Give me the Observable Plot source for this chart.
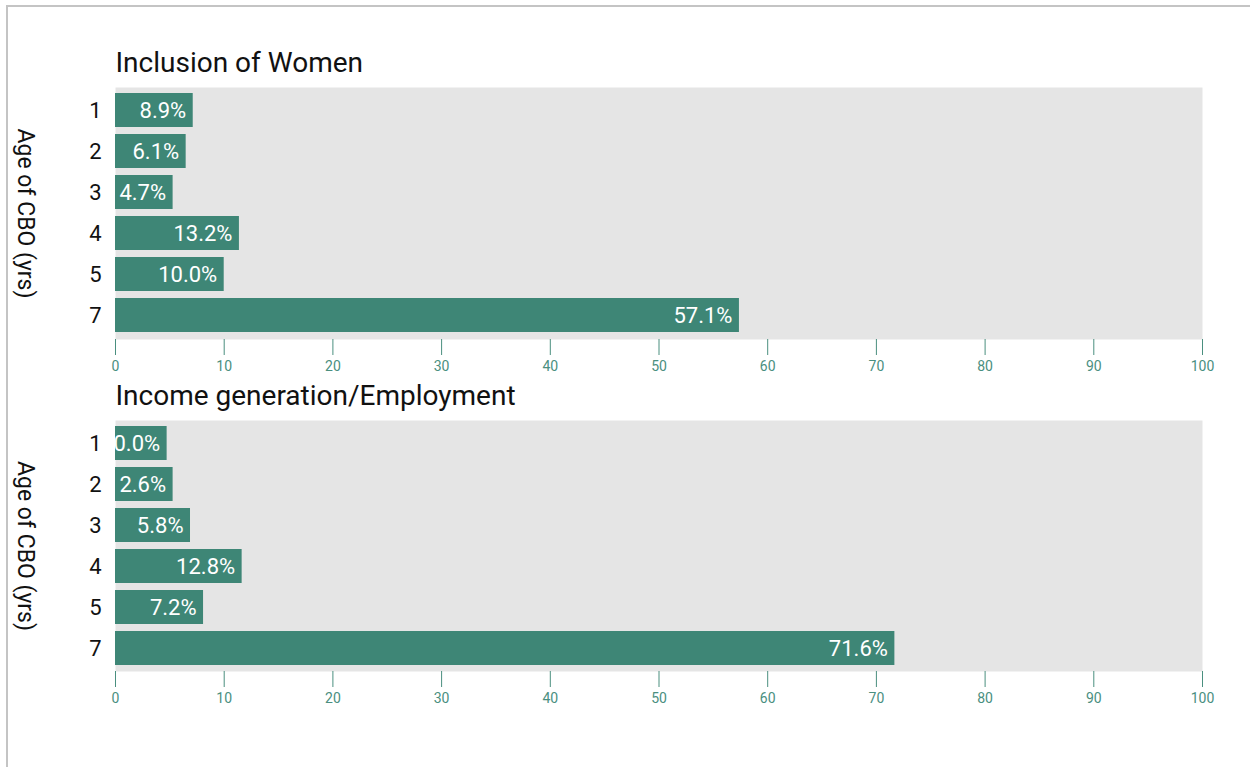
<!DOCTYPE html>
<html><head><meta charset="utf-8">
<script src="https://cdn.jsdelivr.net/npm/d3@7"></script>
<script src="https://cdn.jsdelivr.net/npm/@observablehq/plot@0.6"></script>
<style>
body{margin:0;background:#fff;font-family:Roboto,"Noto Sans",sans-serif;}
#wrap{position:relative;width:1250px;height:767px;overflow:hidden;}
#frame{position:absolute;left:6px;top:5px;width:1260px;height:780px;border-top:2px solid #c4c4c4;border-left:2px solid #c4c4c4;pointer-events:none;}
svg{display:block}
</style></head><body><div id="wrap"><div id="frame"></div></div>
<script>
const ages = ["1","2","3","4","5","7"];
const womenLabels = ["8.9%","6.1%","4.7%","13.2%","10.0%","57.1%"];
const womenBars = [7.15,6.5,5.3,11.4,10.0,57.4];
const incomeLabels = ["0.0%","2.6%","5.8%","12.8%","7.2%","71.6%"];
const incomeBars = [4.75,5.3,6.9,11.65,8.1,71.7];
const xTicks = [0,10,20,30,40,50,60,70,80,90,100];
const titles = ["Inclusion of Women","Income generation/Employment"];
const yLabel = "Age of CBO (yrs)";

const teal = "#3e8676";
const font = "Roboto, 'Noto Sans', sans-serif";

function panel(title, bars, labels, height, marginTop, marginBottom) {
  const data = ages.map((a,i)=>({age:a, len:bars[i], label:labels[i]}));
  return Plot.plot({
    width:1250, height, marginLeft:115, marginRight:48, marginTop, marginBottom,
    style:{fontFamily:font, background:"transparent", overflow:"visible"},
    x:{domain:[0,100]},
    y:{domain:ages, paddingInner:0.16, paddingOuter:0.128},
    marks:[
      Plot.frame({fill:"#e5e5e5", stroke:"none"}),
      Plot.barX(data,{x:"len", y:"age", fill:teal}),
      Plot.text(data,{x:"len", y:"age", text:"label", textAnchor:"end", dx:-7, fill:"white", fontSize:22}),
      Plot.axisX({ticks:xTicks, tickSize:16, tickPadding:6, fontSize:14, color:"#4a8f7f", label:null}),
      Plot.axisY({tickSize:0, tickPadding:14, fontSize:22, color:"#111", label:null}),
      Plot.text([title],{frameAnchor:"top-left", dy:-16, lineAnchor:"bottom", textAnchor:"start", fontSize:28, fill:"#111"}),
      Plot.text([yLabel],{frameAnchor:"left", dx:-90, rotate:90, textAnchor:"middle", fontSize:23, fill:"#111"})
    ]
  });
}
const wrap = document.getElementById("wrap");
wrap.appendChild(panel(titles[0], womenBars, womenLabels, 379, 87, 40));
wrap.appendChild(panel(titles[1], incomeBars, incomeLabels, 352, 41, 60));
</script></body></html>
